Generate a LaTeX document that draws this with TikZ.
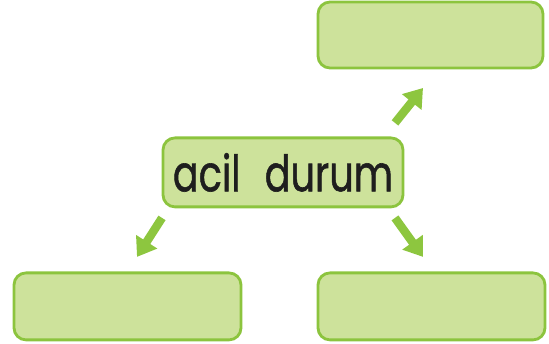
\documentclass[tikz,border=0pt]{standalone}
\usepackage{fontspec}
\setmainfont{Poppins}
\newfontfamily\labelfont[FakeBold=1.2]{Poppins}
\usetikzlibrary{arrows.meta, positioning}
\definecolor{boxfill}{RGB}{205,226,155}
\definecolor{boxline}{RGB}{140,196,62}
\definecolor{arrowgreen}{RGB}{141,198,63}
\definecolor{textdark}{RGB}{30,30,30}

\begin{document}
\begin{tikzpicture}[
		box/.style={draw=boxline, fill=boxfill, line width=2pt, rounded corners=0.3cm, outer sep=0pt, inner sep=0pt},
		arr/.style={arrowgreen, line width=6pt, -{Triangle[length=0.45cm, width=0.6cm]}}
	]
		\useasboundingbox (0,0) rectangle (13.725,8.6);
		\node(acil) [box, minimum width=6cm, minimum height=1.725cm, text=textdark] at (7.075,4.29) {\scalebox{0.8}[1.05]{\labelfont\fontsize{34}{40}\selectfont acil\hspace{0.75cm}durum}};
		\node(tr) [box, minimum width=5.625cm, minimum height=1.65cm] at (10.7625,7.725) {};
		\node(bl) [box, minimum width=5.675cm, minimum height=1.675cm] at (3.1875,0.94) {};
		\node(br) [box, minimum width=5.675cm, minimum height=1.675cm] at (10.7875,0.94) {};

		\draw[arr] ([shift={(-0.2,0.375)}]acil.north east) -- ([shift={(2.625,-0.5)}]tr.south west);
		\draw[arr] ([shift={(-0.025,-0.275)}]acil.south west) -- ([shift={(-2.6,0.4)}]bl.north east);
		\draw[arr] ([shift={(-0.2,-0.275)}]acil.south east) -- ([shift={(2.625,0.4)}]br.north west);
\end{tikzpicture}
\end{document}
